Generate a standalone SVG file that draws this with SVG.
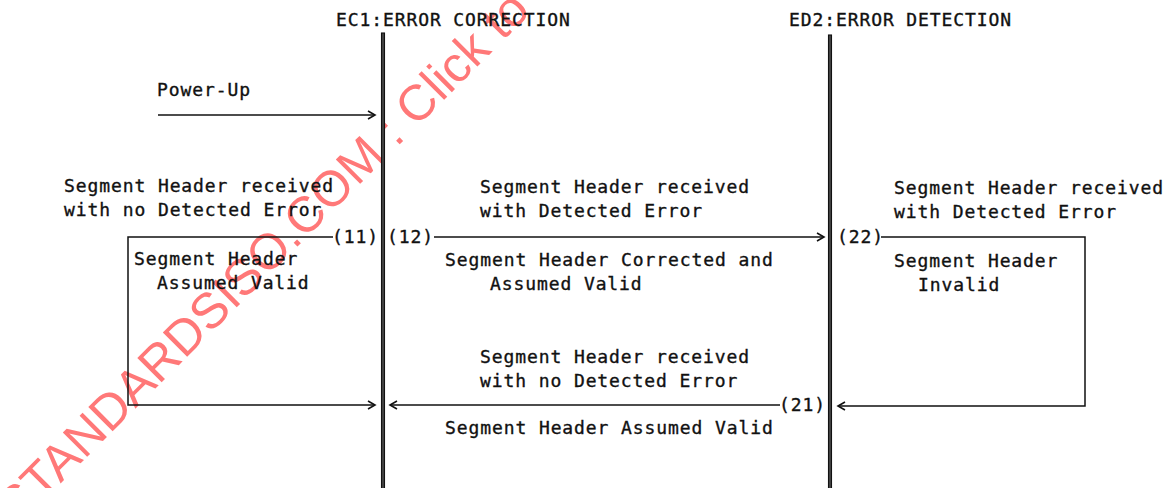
<svg xmlns="http://www.w3.org/2000/svg" width="1168" height="488" viewBox="0 0 1168 488">
  <defs>
    <style>
      .t { font-family: "DejaVu Sans Mono", "Liberation Mono", monospace; font-size: 18px; letter-spacing: 0.9px; fill: #111; stroke: #111; stroke-width: 0.35px; }
      .ln { stroke: #111; stroke-width: 1.5; fill: none; }
      .hd { stroke: #111; stroke-width: 1.6; fill: none; stroke-linejoin: miter; }
      .life { fill: #444; stroke: #111; stroke-width: 1.1; }
      .wm { font-family: "Liberation Sans", Arial, sans-serif; font-size: 50px; fill: #ff7878; }
    </style>
  </defs>
  <rect width="1168" height="488" fill="#fff"/>

  <!-- watermark -->
  <g id="watermark">
    <text class="wm" x="18" y="526" transform="rotate(-45 18 526)">STANDARDSISO.COM : Click to view</text>
  </g>

  <!-- lifelines -->
  <g id="ec1">
    <text class="t" x="336" y="26">EC1:ERROR CORRECTION</text>
    <rect class="life" x="381.5" y="33" width="3" height="460"/>
  </g>
  <g id="ed2">
    <text class="t" x="789" y="26">ED2:ERROR DETECTION</text>
    <rect class="life" x="828.5" y="35" width="3" height="458"/>
  </g>

  <!-- labels -->
  <g id="powerup">
    <text class="t" x="157" y="96">Power-Up</text>
  </g>
  <g id="msg11">
    <text class="t" x="64" y="192">Segment Header received</text>
    <text class="t" x="64" y="216">with no Detected Error</text>
    <text class="t" x="332" y="243">(11)</text>
  </g>
  <g id="state11">
    <text class="t" x="134" y="265">Segment Header</text>
    <text class="t" x="157" y="289">Assumed Valid</text>
  </g>
  <g id="msg12">
    <text class="t" x="480" y="193">Segment Header received</text>
    <text class="t" x="480" y="217">with Detected Error</text>
    <text class="t" x="387" y="243">(12)</text>
    <text class="t" x="445" y="266">Segment Header Corrected and</text>
    <text class="t" x="490" y="290">Assumed Valid</text>
  </g>
  <g id="msg22">
    <text class="t" x="894" y="194">Segment Header received</text>
    <text class="t" x="894" y="218">with Detected Error</text>
    <text class="t" x="837" y="243">(22)</text>
  </g>
  <g id="state22">
    <text class="t" x="894" y="267">Segment Header</text>
    <text class="t" x="918" y="291">Invalid</text>
  </g>
  <g id="msg21">
    <text class="t" x="480" y="363">Segment Header received</text>
    <text class="t" x="480" y="387">with no Detected Error</text>
    <text class="t" x="779" y="411">(21)</text>
    <text class="t" x="445" y="434">Segment Header Assumed Valid</text>
  </g>

  <!-- connectors -->
  <g id="connectors">
    <!-- Power-Up -->
    <line class="ln" x1="158" y1="115" x2="375" y2="115"/>
    <polyline class="hd" points="368,111 375,115 368,119"/>
    <!-- (11) loop -->
    <polyline class="ln" points="333,237 128,237 128,405 375,405"/>
    <polyline class="hd" points="368,401 375,405 368,409"/>
    <!-- (12) -->
    <line class="ln" x1="434" y1="237" x2="824" y2="237"/>
    <polyline class="hd" points="817,233 824,237 817,241"/>
    <!-- (22) loop -->
    <polyline class="ln" points="881,237 1085,237 1085,406 838,406"/>
    <polyline class="hd" points="845,402 838,406 845,410"/>
    <!-- (21) -->
    <line class="ln" x1="780" y1="405" x2="390" y2="405"/>
    <polyline class="hd" points="397,401 390,405 397,409"/>
  </g>
</svg>
